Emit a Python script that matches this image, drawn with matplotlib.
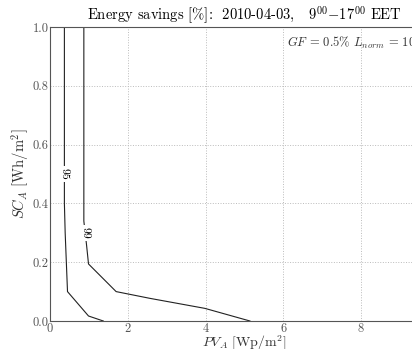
import matplotlib
matplotlib.use('Agg')
import matplotlib.pyplot as plt

plt.rcParams['font.family'] = 'serif'
plt.rcParams['font.serif'] = ['cmr10', 'DejaVu Serif']
plt.rcParams['mathtext.fontset'] = 'cm'
plt.rcParams['axes.formatter.use_mathtext'] = True

# contour paths (PV_A, SC_A)
pv_95 = [0.37, 0.37, 0.39, 0.42, 0.45, 0.99, 1.37]
sc_95 = [1.0, 0.40, 0.30, 0.20, 0.10, 0.017, 0.0]
pv_99 = [0.87, 0.87, 0.94, 0.99, 1.70, 2.57, 3.98, 5.14]
sc_99 = [1.0, 0.34, 0.258, 0.194, 0.10, 0.077, 0.043, 0.0]
labels = ['95', '99']
label_pos = [(0.37, 0.50), (0.90, 0.30)]

fig = plt.figure(figsize=(4.12, 3.49), dpi=100)
ax = fig.add_axes([50 / 412, 28 / 349, 389 / 412, 294 / 349])

ax.plot(pv_95, sc_95, color='#222222', lw=0.8)
ax.plot(pv_99, sc_99, color='#222222', lw=0.8)
for lab, (x, y) in zip(labels, label_pos):
    ax.text(x, y, lab, rotation=-90, ha='center', va='center', fontsize=8.5,
            bbox=dict(facecolor='white', edgecolor='none', pad=1.5))

ax.set_xlim(0, 10)
ax.set_ylim(0, 1)
ax.set_xticks([0, 2, 4, 6, 8])
ax.set_yticks([0.0, 0.2, 0.4, 0.6, 0.8, 1.0])
ax.set_yticklabels(['0.0', '0.2', '0.4', '0.6', '0.8', '1.0'])
ax.grid(True, linestyle=':', color='#bbbbbb', lw=0.7)
ax.tick_params(colors='#555555', labelsize=9, length=0, pad=1)
for s in ax.spines.values():
    s.set_color('#555555')

ax.set_xlabel(r'$PV_A$ [Wp/m$^2$]', fontsize=10, color='#333333', labelpad=-1)
ax.set_ylabel(r'$SC_A$ [Wh/m$^2$]', fontsize=10.5, color='#333333', labelpad=1)
ax.set_title(r'Energy savings [%]:  2010-04-03,   9$^{00}$$-$17$^{00}$ EET',
             fontsize=10.5, pad=5)
ax.text(6.1, 0.946, r'$GF$ = 0.5% $L_{norm}$ = 100', fontsize=9,
        color='#333333', va='center', ha='left')

fig.savefig('out.png', dpi=100)
